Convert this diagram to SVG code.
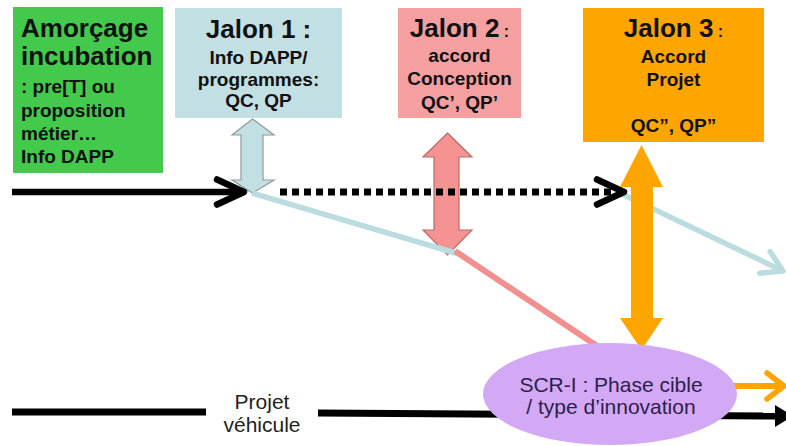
<svg xmlns="http://www.w3.org/2000/svg" width="786" height="446" viewBox="0 0 786 446">
<style>
  .t { font-family: "Liberation Sans", Arial, sans-serif; fill: #111; }
  .b { font-weight: bold; }
  .big { font-size: 26px; }
  .mid { font-size: 19px; }
  .c { text-anchor: middle; }
  .blk { stroke: #000; fill: none; stroke-width: 7; }
  .ell { font-size: 21px; fill: #2b1f4d; }
  .pv { font-size: 21px; fill: #222; }
</style>
<defs>
  <marker id="chevBlack" markerUnits="userSpaceOnUse" markerWidth="1" markerHeight="1" refX="0" refY="0" orient="auto" overflow="visible">
    <path d="M-27,-12.5 L0,0 L-27,12.5" fill="none" stroke="#000" stroke-width="6.5" stroke-linecap="round" stroke-linejoin="round" stroke-dasharray="none"/>
  </marker>
  <marker id="chevBlue" markerUnits="userSpaceOnUse" markerWidth="1" markerHeight="1" refX="0" refY="0" orient="auto" overflow="visible">
    <path d="M-20,-12 L0,0 L-20,12" fill="none" stroke="#bcdde0" stroke-width="5.5" stroke-linecap="round" stroke-linejoin="round"/>
  </marker>
  <marker id="chevOrange" markerUnits="userSpaceOnUse" markerWidth="1" markerHeight="1" refX="0" refY="0" orient="auto" overflow="visible">
    <path d="M-17,-13 L0,0 L-17,13" fill="none" stroke="#ffa500" stroke-width="5.5" stroke-linecap="round" stroke-linejoin="round"/>
  </marker>
</defs>
<rect width="786" height="446" fill="#ffffff"/>

<g id="arrow-jalon1">
  <polygon points="252.5,119 274,135 263,135 263,180 274,180 252.5,193 232,180 241,180 241,135 232,135" fill="#c2e0e4" stroke="#8c9a9b" stroke-width="1.2"/>
</g>

<g id="arrow-jalon2">
  <polygon points="447.5,133 472,157 459,157 459,230 472,230 447.5,255 423,230 434,230 434,157 423,157" fill="#f59292" stroke="#b86a6a" stroke-width="1.2"/>
</g>

<g id="connectors">
  <line x1="252" y1="193" x2="462" y2="255" stroke="#bcdde0" stroke-width="5.5"/>
  <line x1="455" y1="251" x2="600" y2="348" stroke="#f29090" stroke-width="6"/>
  <line x1="622" y1="194" x2="783" y2="271" stroke="#bcdde0" stroke-width="5.5" marker-end="url(#chevBlue)"/>
  <line x1="12" y1="192" x2="244" y2="192" stroke="#000" stroke-width="6.5" marker-end="url(#chevBlack)"/>
  <line x1="280" y1="192" x2="624" y2="192" stroke="#000" stroke-width="7" stroke-dasharray="7 5" marker-end="url(#chevBlack)"/>
  <line x1="12" y1="412" x2="206" y2="412" class="blk"/>
  <line x1="318" y1="413" x2="778" y2="416" class="blk"/>
  <path d="M775,405 L793,416 L775,427 Z" fill="#000"/>
  <line x1="730" y1="386" x2="784" y2="386" stroke="#ffa500" stroke-width="6" marker-end="url(#chevOrange)"/>
</g>

<g id="arrow-jalon3">
  <polygon points="641.5,145 663,187 653,187 653,318 663,318 641.5,350 620,318 631,318 631,187 620,187" fill="#ffa500"/>
</g>

<g id="amorcage">
  <rect x="13" y="7" width="150" height="166" fill="#43c94b"/>
  <text class="t b big" x="21" y="37">Amorçage</text>
  <text class="t b big" x="21" y="65">incubation</text>
  <text class="t b mid" x="21" y="93">: pre[T] ou</text>
  <text class="t b mid" x="21" y="117">proposition</text>
  <text class="t b mid" x="21" y="140">métier…</text>
  <text class="t b mid" x="21" y="163">Info DAPP</text>
</g>

<g id="jalon1">
  <rect x="175" y="8" width="167" height="110" fill="#c2e0e4"/>
  <text class="t b big c" x="258.5" y="38">Jalon 1 :</text>
  <text class="t b mid c" x="258.5" y="64">Info DAPP/</text>
  <text class="t b mid c" x="258.5" y="86">programmes:</text>
  <text class="t b mid c" x="258.5" y="107">QC, QP</text>
</g>

<g id="jalon2">
  <rect x="398" y="8" width="123" height="110" fill="#f5a0a0"/>
  <text class="t b c" x="459.5" y="37"><tspan class="big">Jalon 2</tspan><tspan font-size="16"> :</tspan></text>
  <text class="t b mid c" x="459.5" y="62">accord</text>
  <text class="t b mid c" x="459.5" y="85">Conception</text>
  <text class="t b mid c" x="459.5" y="109">QC’, QP’</text>
</g>

<g id="jalon3">
  <rect x="583" y="8" width="181" height="134" fill="#ffa500"/>
  <text class="t b c" x="673.5" y="37"><tspan class="big">Jalon 3</tspan><tspan font-size="16"> :</tspan></text>
  <text class="t b mid c" x="673.5" y="63">Accord</text>
  <text class="t b mid c" x="673.5" y="86">Projet</text>
  <text class="t b mid c" x="673.5" y="132">QC”, QP”</text>
</g>

<g id="scr">
  <ellipse cx="610" cy="394" rx="127" ry="51" fill="#d3a8f5"/>
  <text class="t c ell" x="611" y="392">SCR-I : Phase cible</text>
  <text class="t c ell" x="611" y="414">/ type d’innovation</text>
</g>

<g id="projet-vehicule">
  <text class="t c pv" x="262" y="409">Projet</text>
  <text class="t c pv" x="262" y="432">véhicule</text>
</g>
</svg>
